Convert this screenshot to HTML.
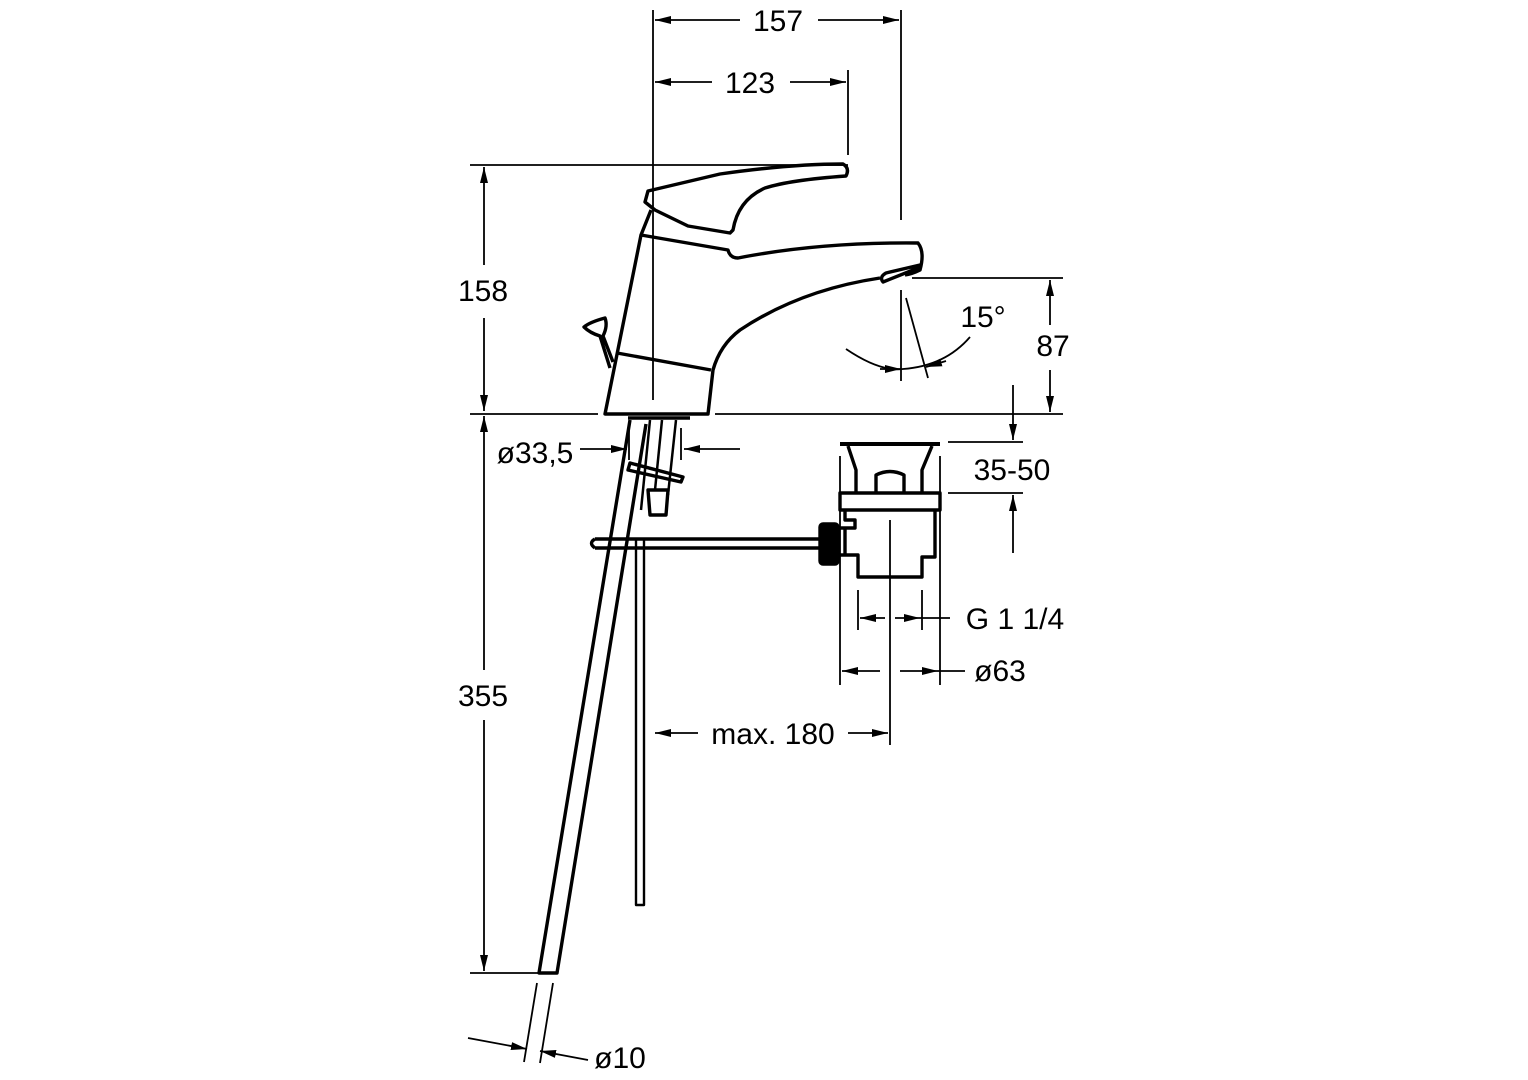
<!DOCTYPE html>
<html><head><meta charset="utf-8"><style>
html,body{margin:0;padding:0;background:#fff;}
svg{display:block}
text{font-family:"Liberation Sans",sans-serif;font-size:30px;fill:#000;}
</style></head><body>
<svg width="1528" height="1080" viewBox="0 0 1528 1080" xmlns="http://www.w3.org/2000/svg">
<defs>
<marker id="a" viewBox="0 0 16 8" refX="16" refY="4" markerWidth="16" markerHeight="8" markerUnits="userSpaceOnUse" orient="auto"><path d="M0,0L16,4L0,8z" fill="#000"/></marker>
</defs>
<g stroke="#000" stroke-width="1.8" fill="none">
<line x1="653" y1="10" x2="653" y2="400"/>
<line x1="901" y1="10" x2="901" y2="220"/>
<line x1="740" y1="20" x2="655" y2="20" marker-end="url(#a)"/>
<line x1="818" y1="20" x2="899" y2="20" marker-end="url(#a)"/>
<line x1="848" y1="70" x2="848" y2="155"/>
<line x1="712" y1="82" x2="655" y2="82" marker-end="url(#a)"/>
<line x1="790" y1="82" x2="846" y2="82" marker-end="url(#a)"/>
<line x1="470" y1="165" x2="848" y2="165"/>
<line x1="484" y1="265" x2="484" y2="167" marker-end="url(#a)"/>
<line x1="484" y1="318" x2="484" y2="411" marker-end="url(#a)"/>
<line x1="470" y1="414" x2="598" y2="414"/>
<line x1="715" y1="414" x2="1063" y2="414"/>
<line x1="912" y1="278" x2="1063" y2="278"/>
<line x1="1050" y1="325" x2="1050" y2="280" marker-end="url(#a)"/>
<line x1="1050" y1="370" x2="1050" y2="412" marker-end="url(#a)"/>
<line x1="901" y1="290" x2="901" y2="381"/>
<line x1="906" y1="298" x2="928" y2="378"/>
<path d="M846,349 Q880,372 903,369 Q945,366 970,337"/>
<line x1="880" y1="369" x2="901" y2="369" marker-end="url(#a)"/>
<line x1="946" y1="361" x2="926" y2="367" marker-end="url(#a)"/>
<line x1="470" y1="973" x2="540" y2="973"/>
<line x1="484" y1="670" x2="484" y2="416" marker-end="url(#a)"/>
<line x1="484" y1="720" x2="484" y2="971" marker-end="url(#a)"/>
<line x1="1013" y1="385" x2="1013" y2="440" marker-end="url(#a)"/>
<line x1="948" y1="442" x2="1023" y2="442"/>
<line x1="948" y1="493" x2="1023" y2="493"/>
<line x1="1013" y1="553" x2="1013" y2="495" marker-end="url(#a)"/>
<line x1="580" y1="449" x2="627" y2="449" marker-end="url(#a)"/>
<line x1="740" y1="449" x2="684" y2="449" marker-end="url(#a)"/>
<line x1="629" y1="428" x2="629" y2="460"/>
<line x1="681" y1="428" x2="681" y2="460"/>
<line x1="840" y1="456" x2="840" y2="685"/>
<line x1="940" y1="456" x2="940" y2="685"/>
<line x1="858" y1="590" x2="858" y2="630"/>
<line x1="922" y1="590" x2="922" y2="630"/>
<line x1="890" y1="520" x2="890" y2="745"/>
<line x1="885" y1="618" x2="860" y2="618" marker-end="url(#a)"/>
<line x1="895" y1="618" x2="920" y2="618" marker-end="url(#a)"/>
<line x1="920" y1="618" x2="950" y2="618"/>
<line x1="880" y1="671" x2="842" y2="671" marker-end="url(#a)"/>
<line x1="900" y1="671" x2="938" y2="671" marker-end="url(#a)"/>
<line x1="938" y1="671" x2="965" y2="671"/>
<line x1="698" y1="733" x2="655" y2="733" marker-end="url(#a)"/>
<line x1="848" y1="733" x2="888" y2="733" marker-end="url(#a)"/>
<line x1="537" y1="983" x2="524" y2="1062"/>
<line x1="553" y1="983" x2="540" y2="1063"/>
<line x1="468" y1="1038" x2="527" y2="1049" marker-end="url(#a)"/>
<line x1="588" y1="1060" x2="540" y2="1051" marker-end="url(#a)"/>
</g>
<g stroke="#000" stroke-width="3.4" fill="none" stroke-linejoin="round">
<path d="M648,191 L720,174 Q790,164 843,164 Q850,168 846,176 Q790,180 765,188 Q738,200 733,230 L730,233 L688,226 L655,210 L645,202 Z"/>
<path d="M651,210 L641,235 L605,414 L708,414 L713,370 Q720,345 740,330 Q800,290 880,278"/>
<path d="M641,235 L728,250 Q730,258 738,258 Q820,242 918,243 Q925,252 920,270 Q912,274 905,275"/>
<path d="M883,282 L918,268 L920,265 L886,273 Q879,277 883,282 Z"/>
<line x1="617" y1="353" x2="711" y2="370"/>
<path d="M610,368 L600,336 Q590,333 584,327 Q590,322 605,318 Q608,326 603,336 L613,362"/>
<path d="M628,418 L690,418"/>
<path d="M630,420 L539,973 L557,973 L646,424"/>
<line x1="650" y1="420" x2="641" y2="510" stroke-width="2.5"/>
<line x1="662" y1="420" x2="655" y2="490" stroke-width="2.5"/>
<line x1="676" y1="420" x2="668" y2="495" stroke-width="2.5"/>
<path d="M630,463 L683,477 L681,482 L628,470 Z"/>
<path d="M648,490 L668,490 L666,515 L650,515 Z"/>
<path d="M636,540 L636,905 L644,905 L644,540" stroke-width="2.4"/>
<path d="M595,539 L822,539 M595,548 L822,548 M595,539 Q588,543 595,548"/>
<rect x="820" y="524" width="18" height="40" rx="3" fill="#000"/>
<path d="M840,444 L940,444" stroke-width="4"/>
<path d="M848,446 L856,470 L856,493 M932,446 L922,470 L922,493"/>
<path d="M876,493 L876,475 Q890,468 904,475 L904,493"/>
<path d="M840,493 L940,493 L940,510 L840,510 Z"/>
<path d="M845,510 L845,520 L855,520 L855,528 L838,528 M838,555 L858,555 L858,577 L922,577 L922,557 L935,557 L935,510"/>
<line x1="845" y1="528" x2="845" y2="555"/>
</g>
<text x="778" y="31" text-anchor="middle">157</text>
<text x="750" y="93" text-anchor="middle">123</text>
<text x="483" y="301" text-anchor="middle">158</text>
<text x="1053" y="356" text-anchor="middle">87</text>
<text x="983" y="327" text-anchor="middle">15°</text>
<text x="1012" y="480" text-anchor="middle">35-50</text>
<text x="535" y="463" text-anchor="middle">ø33,5</text>
<text x="1015" y="629" text-anchor="middle">G 1 1/4</text>
<text x="1000" y="681" text-anchor="middle">ø63</text>
<text x="773" y="744" text-anchor="middle">max. 180</text>
<text x="483" y="706" text-anchor="middle">355</text>
<text x="620" y="1068" text-anchor="middle">ø10</text>
</svg>
</body></html>
